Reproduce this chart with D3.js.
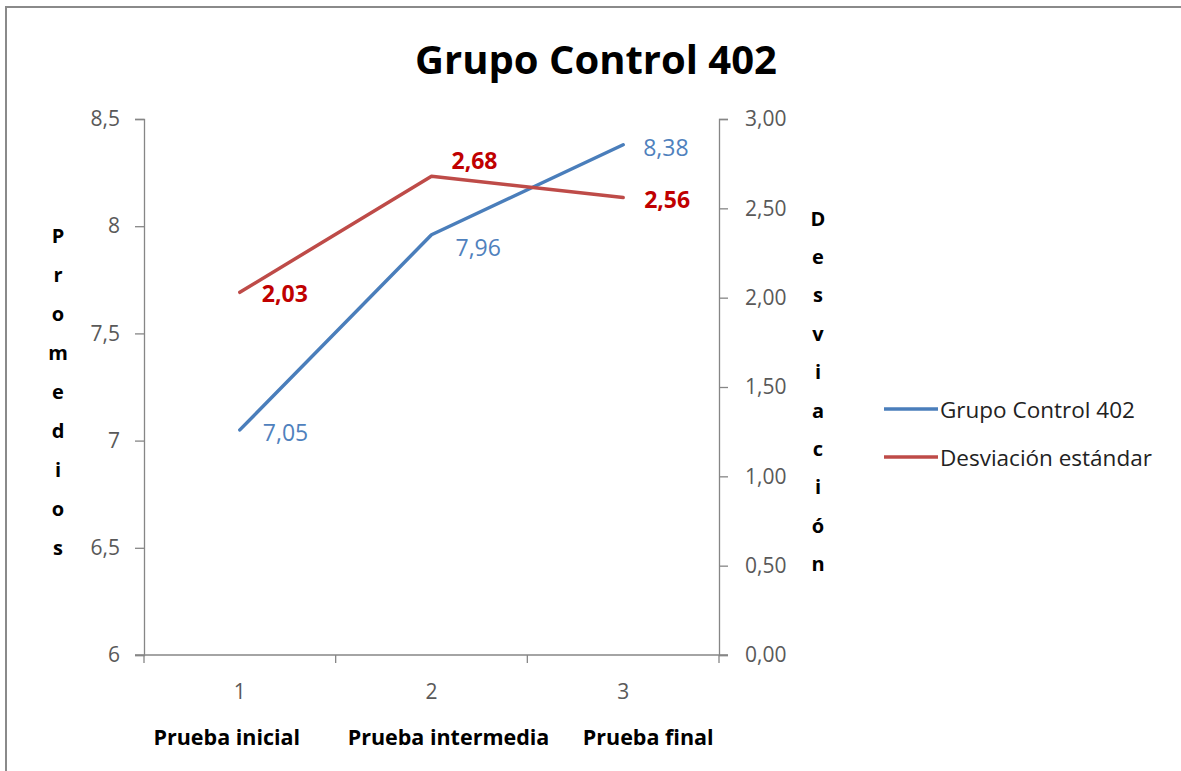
<!DOCTYPE html>
<html><head><meta charset="utf-8">
<script src="https://cdn.jsdelivr.net/npm/d3@7"></script>
<style>html,body{margin:0;padding:0;background:#fff;}svg{display:block;}</style>
</head><body>
<svg id="chart" width="1181" height="771"></svg>
<script>
// ---- data ----
const categories = ["1", "2", "3"];
const testNames = ["Prueba inicial", "Prueba intermedia", "Prueba final"];
const promedios = [7.05, 7.96, 8.38];
const desviacion = [2.03, 2.68, 2.56];
const leftTicks = [6, 6.5, 7, 7.5, 8, 8.5];
const leftTickLabels = ["6", "6,5", "7", "7,5", "8", "8,5"];
const rightTicks = [0, 0.5, 1, 1.5, 2, 2.5, 3];
const rightTickLabels = ["0,00", "0,50", "1,00", "1,50", "2,00", "2,50", "3,00"];
const promLabels = ["7,05", "7,96", "8,38"];
const desvLabels = ["2,03", "2,68", "2,56"];
const seriesNames = ["Grupo Control 402", "Desviación estándar"];
const title = "Grupo Control 402";
const leftTitle = "Promedios";
const rightTitle = "Desviación";

// ---- style ----
const blue = "#4A7EBB", red = "#BE4B48";
const blueText = "#4F81BD", redText = "#C00000";
const axisCol = "#868686", tickText = "#595959";
const font = "'Open Sans', sans-serif";
const promLabelOff = [[23, 2], [24, 12], [20, 2]];
const desvLabelOff = [[22, 1], [20, -16], [21, 1]];
const nameOff = [-13, 17, 25];

const svg = d3.select("#chart");
const plot = {left: 144, right: 719, top: 119, bottom: 655};

// border
svg.append("rect").attr("x", 6).attr("y", 7).attr("width", 1190).attr("height", 790)
  .attr("fill", "#fff").attr("stroke", "#8a8a8a").attr("stroke-width", 2);

const x = d3.scaleBand().domain(categories).range([plot.left, plot.right]).padding(0);
const yL = d3.scaleLinear().domain([6, 8.5]).range([plot.bottom, plot.top]);
const yR = d3.scaleLinear().domain([0, 3]).range([plot.bottom, plot.top]);
const cx = c => x(c) + x.bandwidth() / 2;

// title
svg.append("text").attr("x", 596).attr("y", 74).attr("text-anchor", "middle")
  .style("font-family", font).style("font-weight", 700).style("font-size", "40px")
  .attr("fill", "#000").text(title);

// left axis
const gL = svg.append("g").attr("transform", `translate(${plot.left},0)`)
  .call(d3.axisLeft(yL).tickValues(leftTicks).tickSize(9).tickPadding(15)
    .tickFormat((d, i) => leftTickLabels[i]));
// right axis
const gR = svg.append("g").attr("transform", `translate(${plot.right},0)`)
  .call(d3.axisRight(yR).tickValues(rightTicks).tickSize(9).tickPadding(17)
    .tickFormat((d, i) => rightTickLabels[i]));
[gL, gR].forEach(g => {
  g.select(".domain").attr("stroke", axisCol).attr("stroke-width", 1.3);
  g.selectAll(".tick line").attr("stroke", axisCol).attr("stroke-width", 1.3);
  g.selectAll(".tick text").attr("fill", tickText).style("font-family", font).style("font-size", "21px");
});

// bottom axis
const gB = svg.append("g").attr("transform", `translate(0,${plot.bottom})`);
gB.append("line").attr("x1", plot.left - 9).attr("x2", plot.right + 9)
  .attr("stroke", axisCol).attr("stroke-width", 1.3);
const bounds = categories.map(c => x(c)).concat([x(categories[categories.length - 1]) + x.bandwidth()]);
gB.selectAll("line.tk").data(bounds).join("line").attr("class", "tk")
  .attr("x1", d => d).attr("x2", d => d).attr("y1", 0).attr("y2", 8)
  .attr("stroke", axisCol).attr("stroke-width", 1.3);
gB.selectAll("text.cat").data(categories).join("text").attr("class", "cat")
  .attr("x", d => cx(d)).attr("y", 44).attr("text-anchor", "middle")
  .attr("fill", tickText).style("font-family", font).style("font-size", "21px").text(d => d);
gB.selectAll("text.name").data(testNames).join("text").attr("class", "name")
  .attr("x", (d, i) => cx(categories[i]) + nameOff[i]).attr("y", 90).attr("text-anchor", "middle")
  .attr("fill", "#000").style("font-family", font).style("font-weight", 700).style("font-size", "21.5px").text(d => d);

// axis titles (vertical stacked letters)
svg.append("g").selectAll("text").data(leftTitle.split("")).join("text")
  .attr("x", 58).attr("y", (d, i) => 235 + i * 39).attr("text-anchor", "middle")
  .attr("dominant-baseline", "central").attr("fill", "#000")
  .style("font-family", font).style("font-weight", 700).style("font-size", "20px").text(d => d);
svg.append("g").selectAll("text").data(rightTitle.split("")).join("text")
  .attr("x", 818).attr("y", (d, i) => 218 + i * 38.4).attr("text-anchor", "middle")
  .attr("dominant-baseline", "central").attr("fill", "#000")
  .style("font-family", font).style("font-weight", 700).style("font-size", "20px").text(d => d);

// lines
const lineL = d3.line().x((d, i) => cx(categories[i])).y(d => yL(d));
const lineR = d3.line().x((d, i) => cx(categories[i])).y(d => yR(d));
svg.append("path").datum(promedios).attr("d", lineL).attr("fill", "none")
  .attr("stroke", blue).attr("stroke-width", 3.5).attr("stroke-linejoin", "round").attr("stroke-linecap", "round");
svg.append("path").datum(desviacion).attr("d", lineR).attr("fill", "none")
  .attr("stroke", red).attr("stroke-width", 3.5).attr("stroke-linejoin", "round").attr("stroke-linecap", "round");

// data labels
svg.append("g").selectAll("text").data(promedios).join("text")
  .attr("x", (d, i) => cx(categories[i]) + promLabelOff[i][0])
  .attr("y", (d, i) => yL(d) + promLabelOff[i][1])
  .attr("dominant-baseline", "central").attr("fill", blueText)
  .style("font-family", font).style("font-size", "23px").style("font-weight", 500)
  .text((d, i) => promLabels[i]);
svg.append("g").selectAll("text").data(desviacion).join("text")
  .attr("x", (d, i) => cx(categories[i]) + desvLabelOff[i][0])
  .attr("y", (d, i) => yR(d) + desvLabelOff[i][1])
  .attr("dominant-baseline", "central").attr("fill", redText)
  .style("font-family", font).style("font-size", "23px").style("font-weight", 700)
  .text((d, i) => desvLabels[i]);

// legend
const leg = svg.append("g");
const legY = [409, 457], legCol = [blue, red];
seriesNames.forEach((n, i) => {
  leg.append("line").attr("x1", 884).attr("x2", 938).attr("y1", legY[i]).attr("y2", legY[i])
    .attr("stroke", legCol[i]).attr("stroke-width", 3.5);
  leg.append("text").attr("x", 940).attr("y", legY[i]).attr("dominant-baseline", "central")
    .attr("fill", "#222").style("font-family", font).style("font-size", "22.5px").text(n);
});
</script>
</body></html>
